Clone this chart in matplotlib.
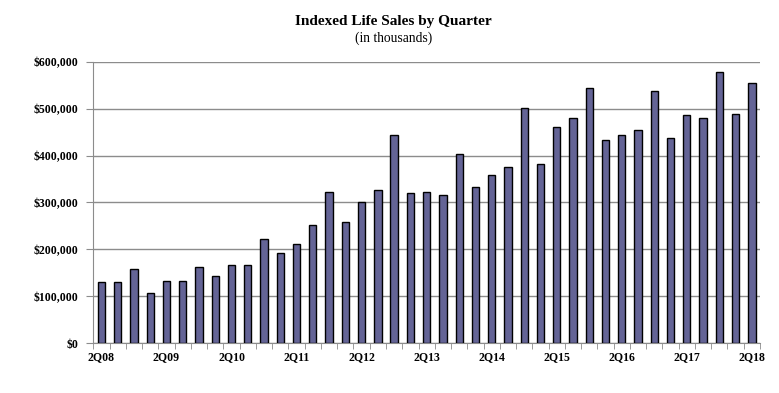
import matplotlib.pyplot as plt
from matplotlib.ticker import FuncFormatter, FixedLocator

# ventas trimestrales (miles de dolares), 2Q08 .. 2Q18
trimestres = []
for anio in range(8, 19):
    for q in range(1, 5):
        if (anio == 8 and q < 2) or (anio == 18 and q > 2):
            continue
        trimestres.append(f"{q}Q{anio:02d}")

ventas = [130, 130, 158, 107, 133, 133, 162, 143, 166, 166,
          222, 192, 211, 251, 322, 258, 300, 326, 443, 320,
          322, 315, 404, 332, 358, 375, 501, 381, 460, 479,
          543, 433, 443, 454, 537, 437, 486, 479, 577, 488,
          554]
ventas = [v * 1000 for v in ventas]

etiquetas = ["2Q08", "2Q09", "2Q10", "2Q11", "2Q12", "2Q13",
             "2Q14", "2Q15", "2Q16", "2Q17", "2Q18"]

plt.rcParams['font.family'] = ['Liberation Serif', 'DejaVu Serif']

fig = plt.figure(figsize=(7.79, 3.93), dpi=100)
ax = fig.add_axes([0.1198, 0.1265, 0.8558, 0.7165])

x = list(range(len(ventas)))
ax.bar(x, ventas, width=0.45, color='#646496', edgecolor='black', linewidth=1.0, zorder=3)

ax.set_xlim(-0.5, len(ventas) - 0.5)
ax.set_ylim(0, 600000)
ax.set_yticks(range(0, 600001, 100000))
ax.yaxis.set_major_formatter(FuncFormatter(lambda v, p: f"${int(v):,}"))
ax.grid(axis='y', color='#8c8c8c', linewidth=1.0, zorder=0)

# etiquetas cada 4 trimestres, marcas entre categorias
pos_etiquetas = [trimestres.index(e) for e in etiquetas]
ax.set_xticks(pos_etiquetas)
ax.set_xticklabels(etiquetas)
ax.tick_params(axis='x', which='major', length=0, pad=6)
ax.xaxis.set_minor_locator(FixedLocator([i - 0.5 for i in range(len(ventas) + 1)]))
ax.tick_params(axis='x', which='minor', length=4, color='#8c8c8c', direction='out')
ax.tick_params(axis='y', length=5, color='#8c8c8c', direction='out', pad=6)

for lbl in ax.get_xticklabels() + ax.get_yticklabels():
    lbl.set_fontweight('bold')
    lbl.set_fontsize(8.5)

for lado in ['top', 'right']:
    ax.spines[lado].set_visible(False)
for lado in ['left', 'bottom']:
    ax.spines[lado].set_color('#8c8c8c')

fig.text(0.505, 0.945, "Indexed Life Sales by Quarter", ha='center', va='center',
         fontsize=11, fontweight='bold')
fig.text(0.505, 0.902, "(in thousands)", ha='center', va='center', fontsize=9.75)

fig.savefig("out.png", dpi=100)
